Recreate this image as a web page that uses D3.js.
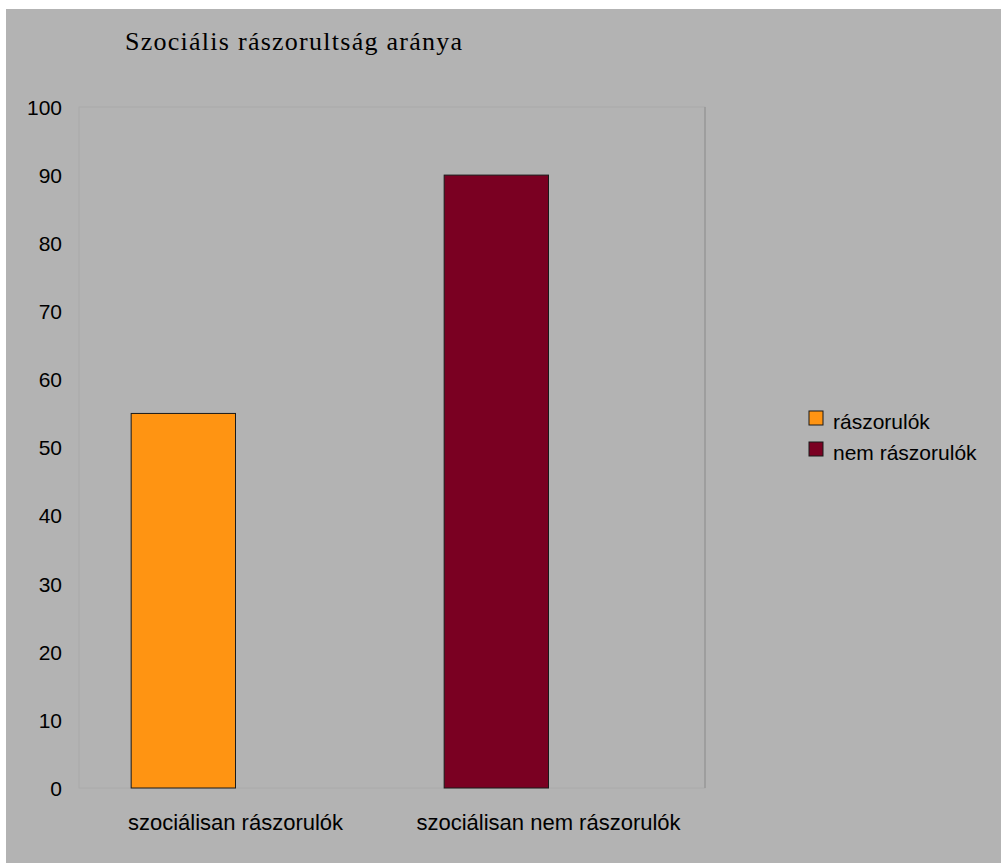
<!DOCTYPE html>
<html>
<head>
<meta charset="utf-8">
<script src="https://cdn.jsdelivr.net/npm/d3@7"></script>
<style>
  html, body { margin: 0; padding: 0; background: #ffffff; }
  svg { display: block; }
</style>
</head>
<body>
<svg id="chart" width="1001" height="863"></svg>
<script>
const titleText = "Szociális rászorultság aránya";
const categories = ["szociálisan rászorulók", "szociálisan nem rászorulók"];
const seriesNames = ["rászorulók", "nem rászorulók"];
const values = [55, 90];
const colors = ["#FF9412", "#7A0022"];
const yTicks = [0, 10, 20, 30, 40, 50, 60, 70, 80, 90, 100];

const svg = d3.select("#chart");
const W = 1001, H = 863;

// background
svg.append("rect").attr("x", 6).attr("y", 9).attr("width", W - 6).attr("height", H - 9).attr("fill", "#b3b3b3");

const plot = { left: 79, top: 107, right: 705, bottom: 788 };

const y = d3.scaleLinear().domain([0, 100]).range([plot.bottom, plot.top]);
const xCat = d3.scaleBand().domain(categories).range([plot.left, plot.right]).padding(0);
const xSlot = d3.scaleBand().domain([0, 1]).range([0, xCat.bandwidth()]).paddingInner(0).paddingOuter(0.5);

// plot area border
svg.append("rect")
  .attr("x", plot.left).attr("y", plot.top)
  .attr("width", plot.right - plot.left).attr("height", plot.bottom - plot.top)
  .attr("fill", "none").attr("stroke", "#aaaaaa").attr("stroke-width", 1);
svg.append("line")
  .attr("x1", plot.right).attr("x2", plot.right)
  .attr("y1", plot.top).attr("y2", plot.bottom)
  .attr("stroke", "#999999").attr("stroke-width", 1.5);

// bars
svg.append("g").selectAll("rect")
  .data(categories)
  .join("rect")
  .attr("x", (c) => xCat(c) + xSlot(0))
  .attr("y", (c, i) => y(values[i]))
  .attr("width", xSlot.bandwidth())
  .attr("height", (c, i) => y(0) - y(values[i]))
  .attr("fill", (c, i) => colors[i])
  .attr("stroke", "#1a1a1a")
  .attr("stroke-width", 1);

// y axis
const yAxis = svg.append("g")
  .attr("transform", `translate(${plot.left},0)`)
  .call(d3.axisLeft(y).tickValues(yTicks).tickSize(0).tickPadding(17).tickFormat(d3.format("d")));
yAxis.select(".domain").remove();
yAxis.selectAll("text")
  .attr("font-family", "Liberation Sans, Arial, sans-serif")
  .attr("font-size", 21)
  .attr("fill", "#000")
  .attr("dy", "0.35em");

// x axis
const xAxis = svg.append("g")
  .attr("transform", `translate(0,${plot.bottom})`)
  .call(d3.axisBottom(xCat).tickSize(0).tickPadding(26));
xAxis.select(".domain").remove();
xAxis.selectAll("text")
  .attr("font-family", "Liberation Sans, Arial, sans-serif")
  .attr("font-size", 22)
  .attr("fill", "#000")
  .attr("dy", "0.71em");

// title
svg.append("text")
  .attr("x", 125).attr("y", 50)
  .attr("font-family", "Liberation Serif, Times New Roman, serif")
  .attr("font-size", 26)
  .attr("fill", "#000")
  .attr("textLength", 337)
  .attr("lengthAdjust", "spacing")
  .text(titleText);

// legend
const legend = svg.append("g");
const lg = legend.selectAll("g").data(seriesNames).join("g")
  .attr("transform", (d, i) => `translate(809,${411 + i * 31})`);
lg.append("rect")
  .attr("width", 14).attr("height", 14)
  .attr("fill", (d, i) => colors[i])
  .attr("stroke", "#1a1a1a").attr("stroke-width", 1);
lg.append("text")
  .attr("x", 24).attr("y", 18)
  .attr("font-family", "Liberation Sans, Arial, sans-serif")
  .attr("font-size", 21)
  .attr("fill", "#000")
  .text(d => d);
</script>
</body>
</html>
